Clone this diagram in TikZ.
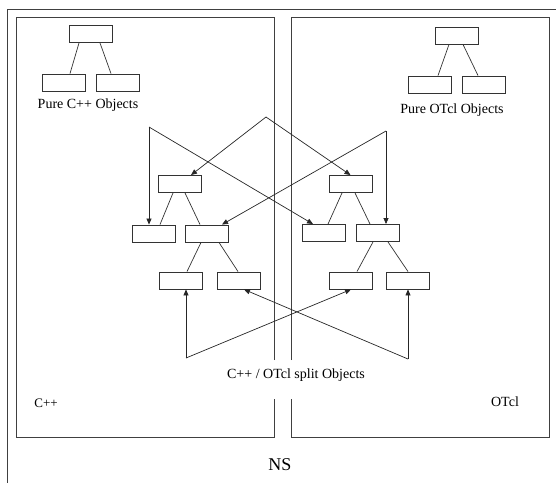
\documentclass[tikz,border=0pt]{standalone}
\usepackage{fontspec}
\setmainfont{Liberation Serif}
\usetikzlibrary{arrows.meta,calc}
\begin{document}
\begin{tikzpicture}[x=1pt,y=-1pt,
  obj/.style={draw=black!80,line width=0.9pt,minimum width=43pt,minimum height=17pt,inner sep=0pt,fill=white},
  tree/.style={draw=black!80,line width=0.7pt},
  link/.style={draw=black!85,line width=0.7pt,-{Triangle[length=6pt,width=5pt]}},
  frame/.style={draw=black!75,line width=0.9pt},
  lbl/.style={font=\fontsize{14}{16}\selectfont,inner sep=0pt}]
\useasboundingbox (0,0) rectangle (556,483);
% outer frame
\draw[frame] (556,9) -- (7,9) -- (7,483);
% left box (C++)
\draw[frame] (274,360) -- (274,17) -- (16,17) -- (16,437) -- (274,437) -- (274,399);
% right box (OTcl)
\draw[frame] (291,360) -- (291,17) -- (549,17) -- (549,437) -- (291,437) -- (291,399);
% pure C++ tree
\node[obj] (tl0) at (91,34) {};
\node[obj] (tl1) at (64,82.5) {};
\node[obj] (tl2) at (117.5,82.5) {};
\draw[tree] ([xshift=-12pt]tl0.south) -- ([xshift=6pt]tl1.north);
\draw[tree] ([xshift=9pt]tl0.south) -- ([xshift=-6.5pt]tl2.north);
\node[lbl] (pc) at (88,105) {Pure C++ Objects};
% pure OTcl tree
\node[obj] (tr0) at (457,35.5) {};
\node[obj] (tr1) at (430,84.5) {};
\node[obj] (tr2) at (483.5,84.5) {};
\draw[tree] ([xshift=-8pt]tr0.south) -- ([xshift=8pt]tr1.north);
\draw[tree] ([xshift=6pt]tr0.south) -- ([xshift=-5.5pt]tr2.north);
\node[lbl] (po) at (452,110) {Pure OTcl Objects};
% split tree, C++ side
\node[obj] (a0) at (180,184) {};
\node[obj] (a1) at (153.5,233.5) {};
\node[obj] (a2) at (207,233.5) {};
\node[obj] (a3) at (180.5,280.5) {};
\node[obj] (a4) at (238.5,280.5) {};
\draw[tree] ([xshift=-7pt]a0.south) -- ([xshift=6.5pt]a1.north);
\draw[tree] ([xshift=5pt]a0.south) -- ([xshift=-7pt]a2.north);
\draw[tree] ([xshift=-6pt]a2.south) -- ([xshift=6.5pt]a3.north);
\draw[tree] ([xshift=12pt]a2.south) -- ([xshift=-0.5pt]a4.north);
% split tree, OTcl side
\node[obj] (b0) at (350.5,184) {};
\node[obj] (b1) at (324,233) {};
\node[obj] (b2) at (377.5,233) {};
\node[obj] (b3) at (351,280.5) {};
\node[obj] (b4) at (408,280.5) {};
\draw[tree] ([xshift=-8.5pt]b0.south) -- ([xshift=4pt]b1.north);
\draw[tree] ([xshift=4.5pt]b0.south) -- ([xshift=-7.5pt]b2.north);
\draw[tree] ([xshift=-4.5pt]b2.south) -- ([xshift=6pt]b3.north);
\draw[tree] ([xshift=10.5pt]b2.south) -- (b4.north);
% connector corners
\coordinate (pL) at (149,127);
\coordinate (pC) at (266,117);
\coordinate (pR) at (386,131);
\coordinate (vL) at (186,358);
\coordinate (vR) at (408,359);
% top arrows
\draw[link] (pL) -- (pL |- a1.north);
\draw[link] (pL) -- ([xshift=-11pt]b1.north);
\draw[link] (pC) -- ([xshift=11pt]a0.north);
\draw[link] (pC) -- (b0.north);
\draw[link] (pR) -- (pR |- b2.north);
\draw[link] (pR) -- ([xshift=15pt]a2.north);
% bottom arrows
\draw[link] (vL) -- (vL |- a3.south);
\draw[link] (vL) -- (b3.south);
\draw[link] (vR) -- (vR |- b4.south);
\draw[link] (vR) -- ([xshift=5.5pt]a4.south);
% labels
\node[lbl,fill=white,inner sep=1pt] (split) at (296,375) {C++ / OTcl split Objects};
\node[lbl,font=\fontsize{13}{15}\selectfont] (cpp) at (46,403) {C++};
\node[lbl] (otcl) at (505,402) {OTcl};
\node[lbl,font=\fontsize{18}{20}\selectfont] (ns) at (280,465) {NS};
\end{tikzpicture}
\end{document}
